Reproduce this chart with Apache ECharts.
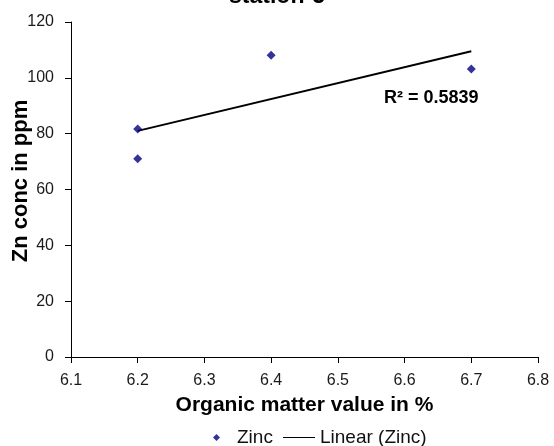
<!DOCTYPE html>
<html><head><meta charset="utf-8">
<script src="https://cdn.jsdelivr.net/npm/echarts@6/dist/echarts.min.js"></script>
<style>html,body{margin:0;padding:0;background:#fff}#c{width:554px;height:446px}</style>
</head><body><div id="c"></div>
<script>
const zincX = [6.2, 6.2, 6.4, 6.7];
const zincY = [81.7, 71.0, 108.1, 103.2];
const trendX = [6.2, 6.7];
const trendY = [81.0, 109.5];
const xTicks = [6.1, 6.2, 6.3, 6.4, 6.5, 6.6, 6.7, 6.8];
const yTicks = [0, 20, 40, 60, 80, 100, 120];

const chart = echarts.init(document.getElementById('c'));
const font = 'Arial, "Liberation Sans", sans-serif';
chart.setOption({
  animation: false,
  backgroundColor: '#fff',
  title: {
    text: 'station-3', left: 'center', top: -20,
    textStyle: {fontFamily: font, fontSize: 23, fontWeight: 'bold', color: '#000'}
  },
  grid: {left: 71, right: 16, top: 22, bottom: 89, containLabel: false, outerBoundsMode: 'none'},
  legend: [
    {
      left: 213, top: 428, padding: 0, itemWidth: 7, itemHeight: 7,
      textStyle: {fontFamily: font, fontSize: 19, color: '#111', padding: [0, 0, 0, 12]},
      data: [{name: 'Zinc', icon: 'diamond', itemStyle: {color: '#000080'}}]
    },
    {
      left: 283, top: 428, padding: 0, itemWidth: 32, itemHeight: 10,
      textStyle: {fontFamily: font, fontSize: 19, color: '#111'},
      data: [{name: 'Linear (Zinc)', icon: 'path://M0,4.5 L32,4.5 L32,5.5 L0,5.5 Z', itemStyle: {color: '#000'}}]
    }
  ],
  xAxis: {
    type: 'value', min: xTicks[0], max: xTicks[xTicks.length - 1], interval: 0.1,
    name: 'Organic matter value in %', nameLocation: 'middle', nameGap: 38,
    nameTextStyle: {fontFamily: font, fontSize: 21, fontWeight: 'bold', color: '#000'},
    axisLine: {show: true, onZero: false, lineStyle: {color: '#000', width: 1}},
    axisTick: {show: true, inside: false, length: 6, lineStyle: {color: '#000'}},
    axisLabel: {fontFamily: font, fontSize: 16, color: '#1a1a1a', margin: 16,
      formatter: v => v.toFixed(1)},
    splitLine: {show: false}
  },
  yAxis: {
    type: 'value', min: yTicks[0], max: yTicks[yTicks.length - 1], interval: 20,
    axisLine: {show: true, lineStyle: {color: '#000', width: 1}},
    axisTick: {show: true, inside: false, length: 6, lineStyle: {color: '#000'}},
    axisLabel: {fontFamily: font, fontSize: 16, color: '#1a1a1a', margin: 17},
    splitLine: {show: false}
  },
  series: [
    {
      name: 'Zinc', type: 'scatter', symbol: 'diamond', symbolSize: 9,
      itemStyle: {color: '#000080'},
      data: zincX.map((x, i) => [x, zincY[i]]), z: 3
    },
    {
      name: 'Linear (Zinc)', type: 'line', symbol: 'none',
      lineStyle: {color: '#000', width: 2},
      data: trendX.map((x, i) => [x, trendY[i]]), z: 2
    }
  ],
  graphic: [
    {
      type: 'text', left: 384, top: 89,
      style: {text: 'R² = 0.5839', fontFamily: font, fontSize: 18, fontWeight: 'bold', fill: '#000'}
    },
    {
      type: 'text', x: 21, y: 181, rotation: Math.PI / 2,
      style: {text: 'Zn conc in ppm', fontFamily: font, fontSize: 22, fontWeight: 'bold', fill: '#000',
        textAlign: 'center', textVerticalAlign: 'middle'}
    }
  ]
});
</script></body></html>
